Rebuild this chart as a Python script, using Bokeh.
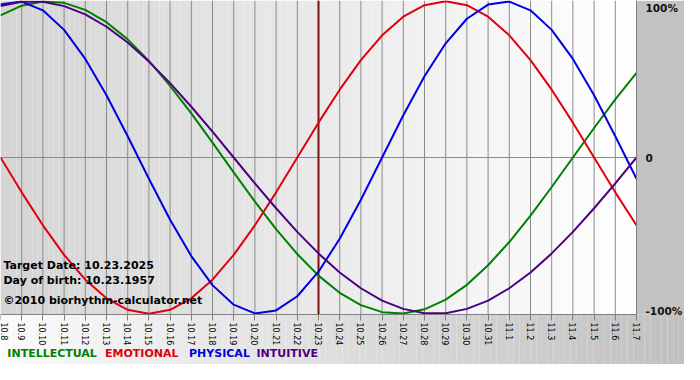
import math
from bokeh.plotting import figure
from bokeh.models import Range1d, FixedTicker, LinearAxis, Label
from bokeh.embed import file_html
from bokeh.resources import INLINE

# ---------------- data ----------------
days = list(range(31))  # 0 = Oct 8, 30 = Nov 7
tick_labels = ["10.8", "10.9", "10.10", "10.11", "10.12", "10.13", "10.14", "10.15",
               "10.16", "10.17", "10.18", "10.19", "10.20", "10.21", "10.22", "10.23",
               "10.24", "10.25", "10.26", "10.27", "10.28", "10.29", "10.30", "10.31",
               "11.1", "11.2", "11.3", "11.4", "11.5", "11.6", "11.7"]

intellectual = [0.910, 0.972, 0.999, 0.990, 0.945, 0.866, 0.756, 0.618, 0.458, 0.282,
                0.095, -0.095, -0.282, -0.458, -0.618, -0.756, -0.866, -0.945, -0.990, -0.999,
                -0.972, -0.910, -0.815, -0.690, -0.541, -0.372, -0.189, 0.000, 0.189, 0.372,
                0.541]
emotional = [0.000, -0.223, -0.434, -0.623, -0.782, -0.901, -0.975, -1.000, -0.975, -0.901,
             -0.782, -0.623, -0.434, -0.223, 0.000, 0.223, 0.434, 0.623, 0.782, 0.901,
             0.975, 1.000, 0.975, 0.901, 0.782, 0.623, 0.434, 0.223, 0.000, -0.223,
             -0.434]
physical = [0.979, 0.998, 0.942, 0.817, 0.631, 0.398, 0.136, -0.136, -0.398, -0.631,
            -0.817, -0.942, -0.998, -0.979, -0.888, -0.731, -0.520, -0.270, 0.000, 0.270,
            0.520, 0.731, 0.888, 0.979, 0.998, 0.942, 0.817, 0.631, 0.398, 0.136,
            -0.136]
intuitive = [0.969, 0.997, 0.997, 0.969, 0.916, 0.837, 0.736, 0.614, 0.476, 0.325,
             0.165, 0.000, -0.165, -0.325, -0.476, -0.614, -0.736, -0.837, -0.916, -0.969,
             -0.997, -0.997, -0.969, -0.916, -0.837, -0.736, -0.614, -0.476, -0.325, -0.165,
             0.000]

target_day = 15
series_names = ["INTELLECTUAL", "EMOTIONAL", "PHYSICAL", "INTUITIVE"]
series_values = [intellectual, emotional, physical, intuitive]
y_tick_values = [0.955, 0.0, -0.985]
y_tick_labels = ["100%", "0", "-100%"]
info_lines = ["Target Date: 10.23.2025", "Day of birth: 10.23.1957",
              "\u00a92010 biorhythm-calculator.net"]

# ---------------- styles / layout ----------------
colors = ["#008000", "#e00010", "#0000e0", "#4b0082"]
W, H = 684, 364
FRAME_W, FRAME_H = 636, 314
X0, X1 = 0, 30
Y_LO, Y_HI = -1.005, 1.005
px_day = FRAME_W / (X1 - X0)
px_unit = FRAME_H / (Y_HI - Y_LO)
XEND = W / px_day
YBOT = Y_LO - (H - FRAME_H) / px_unit

def ref_x(px):
    return px / 21.7

def ref_y(py):
    return (160.5 - py) / 160.0

p = figure(width=W, height=H, x_range=Range1d(0, XEND), y_range=Range1d(YBOT, Y_HI),
           output_backend="svg", toolbar_location=None, min_border=0,
           x_axis_location=None, y_axis_location=None)
p.grid.visible = False
p.outline_line_color = None
p.border_fill_color = "#ffffff"
p.background_fill_color = "#ffffff"

# plot-area gradient (gray -> white)
N = 120
qx0 = [X0 + (X1 - X0) * i / N for i in range(N)]
qx1 = [X0 + (X1 - X0) * (i + 1) / N for i in range(N)]
qc = []
for i in range(N):
    g = int(round(212 + (255 - 212) * i / (N - 1)))
    qc.append("#%02x%02x%02x" % (g, g, g))
p.quad(left=qx0, right=qx1, bottom=Y_LO, top=Y_HI, fill_color=qc, line_color=None)

# bottom band gradient (white -> gray)
M = 120
bx0 = [XEND * i / M for i in range(M)]
bx1 = [XEND * (i + 1) / M for i in range(M)]
bc = []
for i in range(M):
    g = int(round(250 - (250 - 192) * i / (M - 1)))
    bc.append("#%02x%02x%02x" % (g, g, g))
p.quad(left=bx0, right=bx1, bottom=YBOT, top=Y_LO, fill_color=bc, line_color=None)

# right band
p.quad(left=[X1], right=[XEND], bottom=[Y_LO], top=[Y_HI], fill_color="#c2c2c2", line_color=None)

# vertical grid lines
grid_x = days[1:]
p.segment(x0=grid_x, y0=[Y_LO] * len(grid_x), x1=grid_x, y1=[Y_HI] * len(grid_x),
          line_color="#8a8a8a", line_width=1)
# zero line
p.segment(x0=[X0], y0=[0], x1=[X1], y1=[0], line_color="#8a8a8a", line_width=1)

# target date line
p.segment(x0=[target_day], y0=[Y_LO], x1=[target_day], y1=[Y_HI],
          line_color="#7a1010", line_width=2)

# curves
for vals, c in zip(series_values, colors):
    p.line(days, vals, line_color=c, line_width=2)

# bottom axis
xaxis = LinearAxis(ticker=FixedTicker(ticks=days),
                   major_label_overrides={d: lab for d, lab in zip(days, tick_labels)},
                   fixed_location=Y_LO, bounds=(X0, X1))
xaxis.major_label_orientation = -math.pi / 2
xaxis.major_tick_out = 6
xaxis.major_tick_in = 0
xaxis.major_tick_line_color = "#808080"
xaxis.minor_tick_line_color = None
xaxis.axis_line_color = "#808080"
xaxis.major_label_text_font = "DejaVu Sans"
xaxis.major_label_text_font_size = "8px"
xaxis.major_label_text_color = "#000000"
xaxis.major_label_standoff = 2
p.add_layout(xaxis, "below")

# right axis
yaxis = LinearAxis(ticker=FixedTicker(ticks=y_tick_values),
                   major_label_overrides={v: lab for v, lab in zip(y_tick_values, y_tick_labels)},
                   fixed_location=X1)
yaxis.axis_line_color = None
yaxis.major_tick_line_color = None
yaxis.minor_tick_line_color = None
yaxis.major_label_text_font = "DejaVu Sans"
yaxis.major_label_text_font_size = "10.5px"
yaxis.major_label_text_font_style = "bold"
yaxis.major_label_text_color = "#111111"
yaxis.major_label_standoff = 3
p.add_layout(yaxis, "right")

# right border line
p.segment(x0=[X1], y0=[Y_LO], x1=[X1], y1=[Y_HI], line_color="#808080", line_width=1)

# info text
for txt, py in zip(info_lines, [271, 286, 307]):
    p.add_layout(Label(x=ref_x(3), y=ref_y(py), text=txt, text_font="DejaVu Sans",
                       text_font_size="11px", text_font_style="bold", text_color="#000000",
                       text_baseline="middle"))

# legend text
for name, c, px in zip(series_names, colors, [7, 107, 193, 262]):
    p.add_layout(Label(x=ref_x(px), y=ref_y(361), text=name, text_font="DejaVu Sans",
                       text_font_size="11px", text_font_style="bold", text_color=c,
                       text_baseline="middle"))

open("out.html", "w").write(file_html(p, INLINE))
